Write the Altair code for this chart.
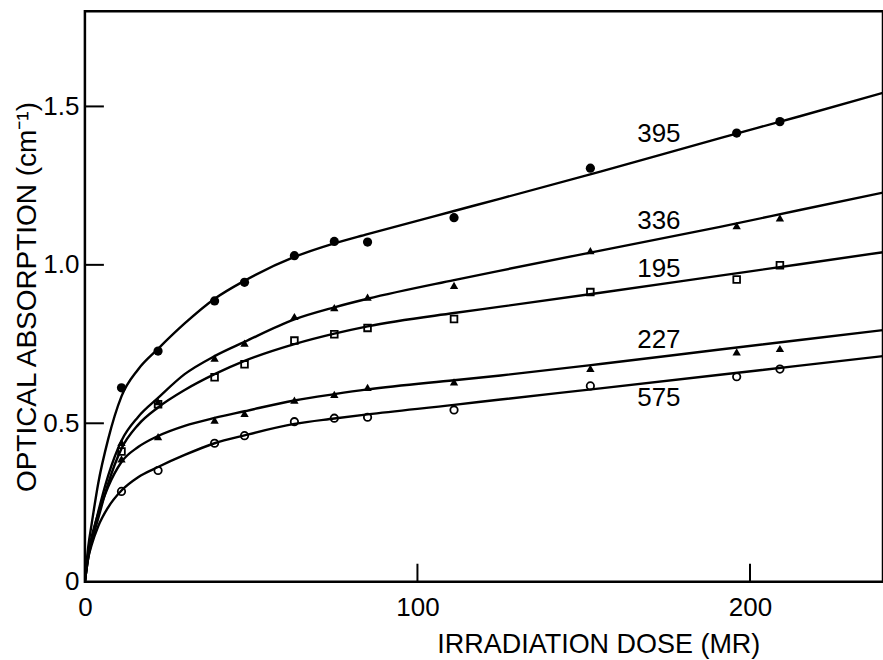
import altair as alt
import pandas as pd

# ---- data ----
series = ["395", "336", "195", "227", "575"]

curve_x = [0, 1, 2, 4, 7, 11, 16, 22, 30, 39, 48, 63, 75, 85, 111, 125, 155, 191, 215, 240]
curve_395 = [0, 0.11, 0.18, 0.31, 0.45, 0.585, 0.67, 0.735, 0.815, 0.893, 0.95, 1.025, 1.068, 1.097, 1.170, 1.209, 1.294, 1.400, 1.469, 1.543]
curve_336 = [0, 0.08, 0.13, 0.22, 0.335, 0.445, 0.52, 0.58, 0.655, 0.712, 0.757, 0.828, 0.866, 0.893, 0.952, 0.982, 1.045, 1.120, 1.173, 1.228]
curve_195 = [0, 0.075, 0.125, 0.2, 0.31, 0.42, 0.495, 0.55, 0.605, 0.655, 0.697, 0.750, 0.783, 0.806, 0.848, 0.868, 0.912, 0.966, 1.002, 1.040]
curve_227 = [0, 0.09, 0.14, 0.215, 0.30, 0.378, 0.425, 0.46, 0.492, 0.517, 0.538, 0.572, 0.592, 0.607, 0.636, 0.651, 0.687, 0.733, 0.763, 0.794]
curve_575 = [0, 0.075, 0.115, 0.175, 0.235, 0.288, 0.33, 0.362, 0.40, 0.437, 0.462, 0.498, 0.515, 0.528, 0.558, 0.575, 0.610, 0.653, 0.682, 0.712]

pt_x = [11, 22, 39, 48, 63, 75, 85, 111, 152, 196, 209]
pt_395 = [0.612, 0.728, 0.886, 0.945, 1.029, 1.074, 1.072, 1.149, 1.305, 1.416, 1.452]
pt_336 = [0.440, 0.568, 0.706, 0.753, 0.837, 0.865, 0.898, 0.935, 1.045, 1.124, 1.148]
pt_195 = [0.411, 0.560, 0.645, 0.686, 0.761, 0.781, 0.801, 0.829, 0.914, 0.954, 0.999]
pt_227 = [0.388, 0.458, 0.510, 0.531, 0.573, 0.591, 0.613, 0.631, 0.673, 0.725, 0.736]
pt_575 = [0.285, 0.351, 0.437, 0.461, 0.505, 0.516, 0.519, 0.542, 0.618, 0.647, 0.671]

label_x = [172.6, 172.6, 172.6, 172.6, 172.6]
label_y = [1.412, 1.139, 0.987, 0.762, 0.579]

x_tick_values = [100, 200]
y_tick_values = [0.5, 1.0, 1.5]

# ---- tables ----
curves = {"395": curve_395, "336": curve_336, "195": curve_195, "227": curve_227, "575": curve_575}
points = {"395": pt_395, "336": pt_336, "195": pt_195, "227": pt_227, "575": pt_575}

curve_df = pd.DataFrame(
    [{"series": s, "x": xv, "y": yv} for s in series for xv, yv in zip(curve_x, curves[s])]
)
point_df = pd.DataFrame(
    [{"series": s, "x": xv, "y": yv} for s in series for xv, yv in zip(pt_x, points[s])]
)
label_df = pd.DataFrame({"series": series, "x": label_x, "y": label_y})
xt_df = pd.DataFrame({"x": x_tick_values})
yt_df = pd.DataFrame({"y": y_tick_values})

FONT = "Liberation Sans"
W, H = 799, 571

xs = alt.Scale(domain=[0, 240], nice=False, zero=False)
ys = alt.Scale(domain=[0, 1.8], nice=False, zero=False)

x_axis = alt.Axis(
    values=[0, 100, 200], tickSize=0, domain=False, grid=False, labelFlush=False,
    labelFont=FONT, labelFontSize=26, labelColor="black", labelPadding=13,
    title="IRRADIATION DOSE (MR)", titleFont=FONT, titleFontSize=27,
    titleFontWeight="normal", titleColor="black",
    titleX=514, titleY=63, titleAlign="center", titleBaseline="middle",
)
y_axis = alt.Axis(
    values=[0, 0.5, 1.0, 1.5], tickSize=0, domain=False, grid=False, labelFlush=False,
    labelExpr="datum.value == 0 ? '0' : format(datum.value, '.1f')",
    labelFont=FONT, labelFontSize=26, labelColor="black", labelPadding=6,
    title="OPTICAL ABSORPTION (cm⁻¹)", titleFont=FONT, titleFontSize=28,
    titleFontWeight="normal", titleColor="black",
    titleX=-57, titleY=H / 2, titleAngle=-90, titleAlign="center", titleBaseline="middle",
)

lines = alt.Chart(curve_df).mark_line(
    color="black", strokeWidth=2.4, interpolate="monotone", clip=True
).encode(
    x=alt.X("x:Q", scale=xs, axis=x_axis),
    y=alt.Y("y:Q", scale=ys, axis=y_axis),
    detail="series:N",
)

styles = {
    "395": dict(shape="circle", filled=True, size=85),
    "336": dict(shape="triangle-up", filled=True, size=70),
    "195": dict(shape="square", filled=False, size=45, strokeWidth=1.8),
    "227": dict(shape="triangle-up", filled=True, size=70),
    "575": dict(shape="circle", filled=False, size=55, strokeWidth=1.8),
}

point_layers = []
for s in series:
    st = styles[s]
    point_layers.append(
        alt.Chart(point_df[point_df["series"] == s]).mark_point(
            color="black", opacity=1, **st
        ).encode(
            x=alt.X("x:Q", scale=xs),
            y=alt.Y("y:Q", scale=ys),
        )
    )

labels = alt.Chart(label_df).mark_text(
    font=FONT, fontSize=26, color="black", align="center", baseline="middle"
).encode(
    x=alt.X("x:Q", scale=xs),
    y=alt.Y("y:Q", scale=ys),
    text="series:N",
)

x_ticks = alt.Chart(xt_df).mark_rule(color="black", strokeWidth=2).encode(
    x=alt.X("x:Q", scale=xs),
    y=alt.value(H),
    y2=alt.value(H - 18),
)
y_ticks = alt.Chart(yt_df).mark_rule(color="black", strokeWidth=2).encode(
    y=alt.Y("y:Q", scale=ys),
    x=alt.value(0),
    x2=alt.value(19),
)

chart = alt.layer(lines, *point_layers, labels, x_ticks, y_ticks).properties(
    width=W, height=H,
    autosize=alt.AutoSizeParams(type="none"),
    padding={"left": 85, "top": 11, "right": 0, "bottom": 78},
    background="white",
).configure_view(
    stroke="black", strokeWidth=2.5
)

chart.save("out.html", embed_options={"renderer": "svg", "actions": False})
